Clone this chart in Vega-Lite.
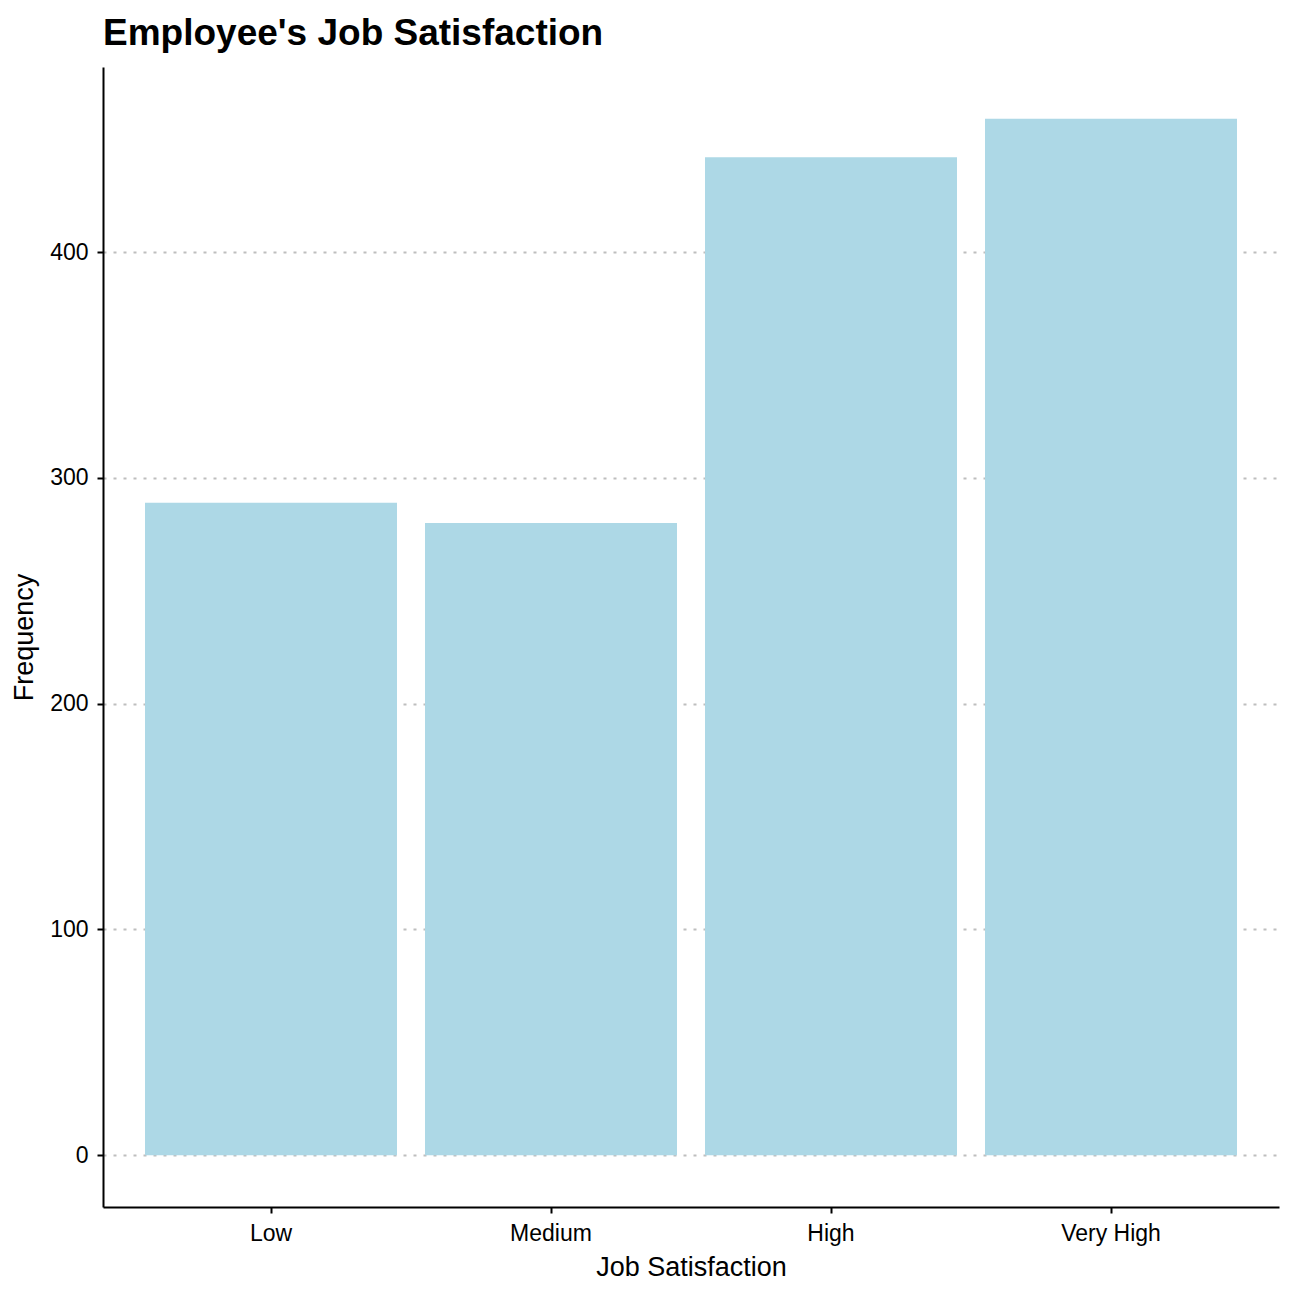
{
  "$schema": "https://vega.github.io/schema/vega-lite/v6.json",
  "autosize": "none",
  "width": 1176,
  "height": 1140,
  "padding": {"left": 103, "top": 67, "right": 17, "bottom": 89},
  "background": "white",
  "title": {
    "text": "Employee's Job Satisfaction",
    "anchor": "start",
    "frame": "group",
    "font": "Liberation Sans",
    "fontSize": 37,
    "fontWeight": "bold",
    "color": "black",
    "offset": 14
  },
  "data": {
    "values": [
      {"JobSatisfaction": "Low", "Frequency": 289},
      {"JobSatisfaction": "Medium", "Frequency": 280},
      {"JobSatisfaction": "High", "Frequency": 442},
      {"JobSatisfaction": "Very High", "Frequency": 459}
    ]
  },
  "mark": {"type": "bar", "color": "#ADD8E6"},
  "encoding": {
    "x": {
      "field": "JobSatisfaction",
      "type": "nominal",
      "sort": ["Low", "Medium", "High", "Very High"],
      "scale": {"paddingInner": 0.1, "paddingOuter": 0.15},
      "axis": {"title": "Job Satisfaction", "labelAngle": 0, "grid": false, "labelPadding": 9, "titlePadding": 9}
    },
    "y": {
      "field": "Frequency",
      "type": "quantitative",
      "scale": {"domain": [-22.95, 481.95], "nice": false, "zero": false},
      "axis": {"title": "Frequency", "values": [0, 100, 200, 300, 400], "grid": true, "labelPadding": 9, "titlePadding": 11}
    }
  },
  "config": {
    "view": {"stroke": null},
    "axis": {
      "domainColor": "black",
      "domainWidth": 2,
      "tickColor": "black",
      "tickWidth": 2,
      "tickSize": 6,
      "labelFont": "Liberation Sans",
      "labelFontSize": 23,
      "labelColor": "black",
      "titleFont": "Liberation Sans",
      "titleFontSize": 27,
      "titleFontWeight": "normal",
      "titleColor": "black",
      "gridColor": "#bebebe",
      "gridWidth": 2,
      "gridDash": [3, 7]
    }
  }
}
